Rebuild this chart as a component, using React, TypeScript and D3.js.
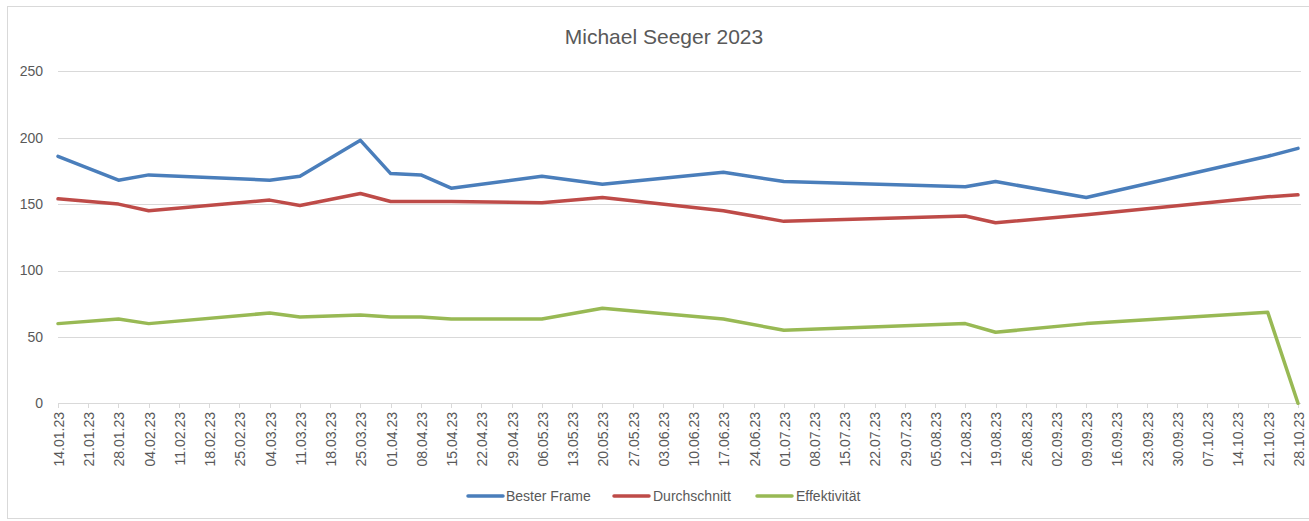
import React from "react";
import * as d3 from "d3";

const dates = [
  "2023-01-14", "2023-01-28", "2023-02-04", "2023-03-04", "2023-03-11", "2023-03-25",
  "2023-04-01", "2023-04-08", "2023-04-15", "2023-05-06", "2023-05-20", "2023-06-17",
  "2023-07-01", "2023-08-12", "2023-08-19", "2023-09-09", "2023-10-21", "2023-10-28",
];
const besterFrame = [186, 168, 172, 168, 171, 198, 173, 172, 162, 171, 165, 174, 167, 163, 167, 155, 186, 192];
const durchschnitt = [154, 150, 145, 153, 149, 158, 152, 152, 152, 151, 155, 145, 137, 141, 136, 142, 155.5, 157];
const effektivitaet = [60, 63.5, 60, 68, 65, 66.5, 65, 65, 63.5, 63.5, 71.5, 63.5, 55, 60, 53.5, 60, 68.5, 0];
const seriesNames = ["Bester Frame", "Durchschnitt", "Effektivität"];
const seriesColors = ["#4A7EBB", "#BE4B48", "#98B954"];
const yTicks = [0, 50, 100, 150, 200, 250];
const axisStart = "2023-01-14";
const axisEnd = "2023-10-28";
const title = "Michael Seeger 2023";

const W = 1309;
const H = 521;
const FONT = "'Liberation Sans', Arial, sans-serif";
const TEXT = "#595959";
const GRID = "#D9D9D9";

export default function App() {
  const parse = d3.timeParse("%Y-%m-%d");
  const fmt = d3.timeFormat("%d.%m.%y");
  const start = parse(axisStart)!;
  const end = parse(axisEnd)!;
  const x = d3.scaleTime().domain([start, end]).range([58, 1298]);
  const y = d3.scaleLinear().domain([0, 250]).range([403.3, 71.3]);
  const xTicks = d3.timeDay.range(start, d3.timeDay.offset(end, 1), 7);
  const parsed = dates.map((d) => parse(d)!);
  const series = [besterFrame, durchschnitt, effektivitaet];
  const line = d3
    .line<[Date, number]>()
    .x((d) => x(d[0]))
    .y((d) => y(d[1]));

  const legendItems = [
    { lx: 468, tx: 506 },
    { lx: 614, tx: 653 },
    { lx: 757, tx: 796 },
  ];

  return (
    <svg width={W} height={H} style={{ position: "absolute", left: 0, top: 0, background: "#fff" }} fontFamily={FONT}>
      <rect x={7.5} y={6.5} width={W} height={512} fill="#fff" stroke={GRID} strokeWidth={1} />
      <text x={664} y={44} textAnchor="middle" fontSize={21} fill={TEXT}>
        {title}
      </text>
      {yTicks.map((t) => (
        <g key={t}>
          <line x1={58} x2={1301} y1={Math.round(y(t)) + 0.5} y2={Math.round(y(t)) + 0.5} stroke={GRID} strokeWidth={1} />
          <text x={43} y={y(t)} dy="0.35em" textAnchor="end" fontSize={14} fill={TEXT}>
            {t}
          </text>
        </g>
      ))}
      {xTicks.map((d, i) => {
        const px = Math.round(x(d)) + 0.5;
        return (
          <g key={i}>
            <line x1={px} x2={px} y1={403} y2={408} stroke={GRID} strokeWidth={1} />
            <text
              transform={`translate(${x(d) + 1},412) rotate(-90)`}
              textAnchor="end"
              dy="0.35em"
              fontSize={14}
              fill={TEXT}
            >
              {fmt(d)}
            </text>
          </g>
        );
      })}
      {series.map((vals, si) => (
        <path
          key={si}
          d={line(parsed.map((d, i) => [d, vals[i]] as [Date, number])) || ""}
          fill="none"
          stroke={seriesColors[si]}
          strokeWidth={3.5}
          strokeLinejoin="round"
          strokeLinecap="round"
        />
      ))}
      {seriesNames.map((n, i) => (
        <g key={n}>
          <line
            x1={legendItems[i].lx}
            x2={legendItems[i].lx + 35}
            y1={496}
            y2={496}
            stroke={seriesColors[i]}
            strokeWidth={3.5}
            strokeLinecap="round"
          />
          <text x={legendItems[i].tx} y={496} dy="0.35em" fontSize={14} fill={TEXT}>
            {n}
          </text>
        </g>
      ))}
    </svg>
  );
}
